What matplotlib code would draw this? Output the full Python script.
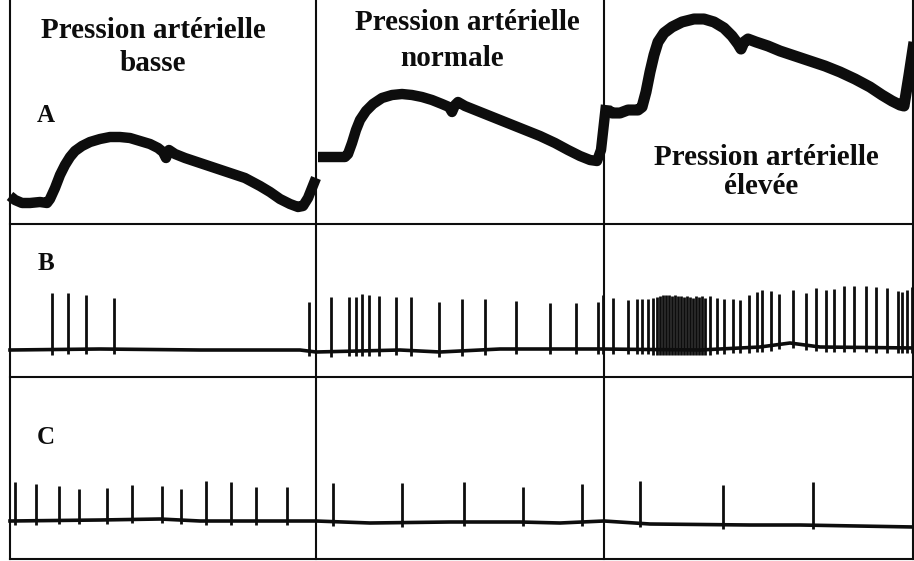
import matplotlib
matplotlib.use("Agg")
import matplotlib.pyplot as plt
import numpy as np

# ---- Data (image-pixel units: x right, y down) ----
# Arterial pressure traces (row A), one per condition
pa_low_x = [10, 15, 22, 30, 40, 47, 50, 55, 60, 65, 70, 75, 82, 90, 100, 110, 120, 130, 140, 150, 158, 163,
            166, 169, 175, 185, 200, 215, 230, 245, 260, 270, 280, 290, 298, 303, 308, 316]
pa_low_y = [196, 200, 203, 203, 202, 203, 199, 188, 175, 165, 157, 151, 146, 142, 139, 137, 137, 138, 141, 144, 148, 152,
            158, 150, 154, 158, 163, 168, 173, 178, 186, 192, 199, 204, 207, 206, 198, 178]

pa_norm_x = [318, 330, 345, 348, 352, 356, 360, 366, 373, 382, 392, 402, 412, 422, 432, 442, 449, 452, 455, 458,
             465, 480, 495, 510, 525, 540, 555, 568, 580, 590, 597, 601, 606]
pa_norm_y = [157, 157, 157, 154, 143, 130, 120, 111, 104, 98, 95, 94, 95, 97, 100, 104, 107, 112, 105, 102,
             106, 112, 118, 124, 130, 136, 143, 150, 156, 160, 161, 150, 105]

pa_high_x = [608, 612, 620, 628, 638, 642, 646, 650, 654, 658, 664, 672, 682, 694, 704, 714, 724, 732, 738, 741,
             744, 748, 756, 768, 780, 795, 810, 825, 840, 855, 870, 882, 892, 900, 904, 909, 914]
pa_high_y = [110, 113, 113, 110, 110, 107, 92, 72, 55, 42, 33, 27, 22, 19, 19, 22, 28, 36, 44, 49,
             42, 39, 42, 46, 51, 56, 61, 66, 72, 79, 87, 95, 101, 105, 106, 75, 42]

# Row B: nerve fibre discharge (spike positions and tops)
b_base_x = [10, 100, 200, 300, 316, 400, 440, 500, 600, 700, 760, 790, 820, 914]
b_base_y = [350, 349, 350, 350, 352, 350, 352, 349, 349, 350, 347, 343, 347, 348]
b_spike_x = [52, 68, 86, 114, 309, 331, 349, 356, 362, 369, 379, 396, 411, 439, 462, 485, 516, 550, 576, 598, 603,
             613, 628, 637, 642, 648, 653, 657, 660, 663, 666, 669, 672, 675, 678, 681, 684, 687, 690, 693, 696, 699,
             702, 705, 710, 717, 724, 733, 740, 749, 757, 762, 771, 779, 793, 806, 816, 826, 834, 844, 854, 866,
             876, 887, 898, 902, 907, 912]
b_spike_top = [293, 293, 295, 298, 302, 297, 297, 297, 294, 295, 296, 297, 297, 302, 299, 299, 301, 303, 303, 302, 295,
               298, 300, 299, 299, 299, 298, 297, 296, 295, 295, 295, 296, 295, 296, 296, 297, 296, 297, 298, 296, 297,
               296, 298, 296, 298, 299, 299, 300, 295, 292, 290, 291, 294, 290, 293, 288, 290, 289, 286, 286, 286,
               287, 288, 291, 292, 290, 287]

# Row C: second fibre discharge
c_base_x = [10, 100, 160, 200, 316, 370, 450, 520, 560, 604, 650, 750, 800, 914]
c_base_y = [521, 520, 519, 521, 521, 523, 522, 522, 523, 521, 524, 525, 525, 527]
c_spike_x = [15, 36, 59, 79, 107, 132, 162, 181, 206, 231, 256, 287, 333, 402, 464, 523, 582, 640, 723, 813]
c_spike_top = [482, 484, 486, 489, 488, 485, 486, 489, 481, 482, 487, 487, 483, 483, 482, 487, 484, 481, 485, 482]

# Labels
row_labels = ["A", "B", "C"]
title_line1 = ["Pression artérielle", "Pression artérielle", "Pression artérielle"]
title_line2 = ["basse", "normale", "élevée"]

# ---- Drawing ----
W, H = 914, 561
fig = plt.figure(figsize=(W / 100, H / 100), dpi=100)
ax = fig.add_axes([0, 0, 1, 1])
ax.set_xlim(0, W)
ax.set_ylim(H, 0)
ax.axis("off")

ink = "#0d0d0d"

# frame grid
for xv in [10, 316, 604, 913]:
    ax.plot([xv, xv], [0, 559], color=ink, lw=1.5)
for yv in [224, 377, 559]:
    ax.plot([10, 913], [yv, yv], color=ink, lw=1.5)

# pressure traces
for xs, ys, lw in [(pa_low_x, pa_low_y, 7.5), (pa_norm_x, pa_norm_y, 7.5), (pa_high_x, pa_high_y, 8)]:
    ax.plot(xs, ys, color=ink, lw=lw, solid_joinstyle="round", solid_capstyle="butt")


def spikes(base_x, base_y, sx, stop, depth):
    sx = np.asarray(sx, float)
    by = np.interp(sx, base_x, base_y)
    ax.plot(base_x, base_y, color=ink, lw=2.6, solid_joinstyle="round")
    ax.vlines(sx, stop, by + depth, color=ink, lw=2.0)


spikes(b_base_x, b_base_y, b_spike_x, b_spike_top, 5)
spikes(c_base_x, c_base_y, c_spike_x, c_spike_top, 4)

# row letters
for lab, yy in zip(row_labels, [122, 270, 444]):
    ax.text(46, yy, lab, family="Liberation Serif", weight="bold", fontsize=18,
            ha="center", va="baseline", color=ink)

tfont = dict(family="Liberation Serif", weight="bold", fontsize=21, color=ink,
             ha="center", va="baseline")
pos1 = [(153, 38), (467, 30), (766, 165)]
pos2 = [(153, 71), (452, 66), (761, 194)]
for t, (x, y) in zip(title_line1, pos1):
    ax.text(x, y, t, **tfont)
for t, (x, y) in zip(title_line2, pos2):
    ax.text(x, y, t, **tfont)

fig.savefig("out.png", dpi=100)
